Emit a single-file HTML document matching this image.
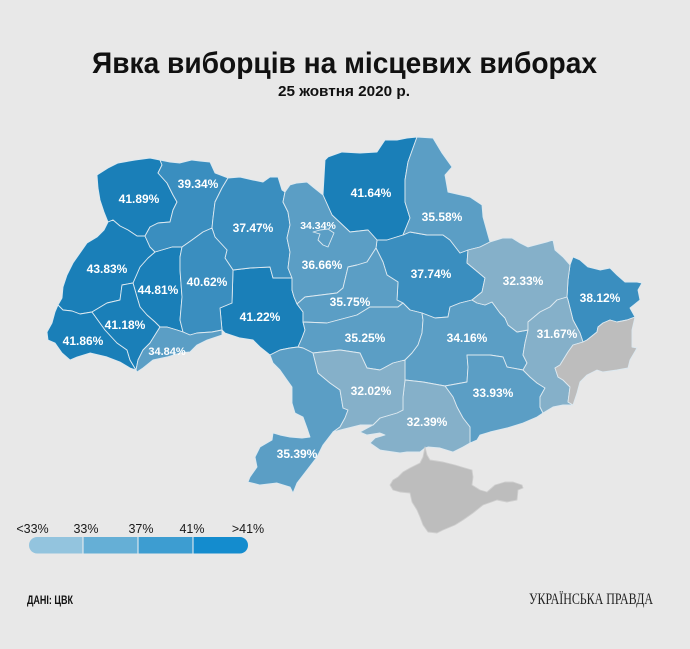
<!DOCTYPE html>
<html><head><meta charset="utf-8"><style>
html,body{margin:0;padding:0;background:#e8e8e8;}
svg{display:block;}
</style></head><body>
<svg width="690" height="649" viewBox="0 0 690 649" xmlns="http://www.w3.org/2000/svg">
<rect width="690" height="649" fill="#e8e8e8"/>
<defs>
<clipPath id="lg"><rect x="29" y="537" width="219" height="16.5" rx="8.2" ry="8.2"/></clipPath>
</defs>

<text x="344.5" y="73" text-anchor="middle" font-family="'Liberation Sans', sans-serif" font-weight="bold" font-size="30" fill="#111" textLength="505" lengthAdjust="spacingAndGlyphs">Явка виборців на місцевих виборах</text>
<text x="344" y="96" text-anchor="middle" font-family="'Liberation Sans', sans-serif" font-weight="bold" font-size="15" fill="#111" textLength="132" lengthAdjust="spacingAndGlyphs">25 жовтня 2020 р.</text>

<g stroke="#dde9f0" stroke-width="0.9" stroke-linejoin="round">
<!-- >41 -->
<g fill="#1a7fb8">
<polygon points="97,175 108,168 118,163 135,160 150,158 160,160 162,165 158,173 167,183 173,195 177,202 173,210 170,222 158,223 150,227 145,236 137,236 128,230 120,226 113,220 108,222 104,212 100,200 98,188"/>
<polygon points="155,252 172,247 182,247 180,257 180,270 182,297 180,320 183,332 177,330 167,327 160,327 155,322 147,315 140,307 137,297 133,283 140,267 148,258"/>
<polygon points="108,222 113,220 120,226 128,230 137,236 145,236 150,247 155,252 148,258 140,267 133,283 122,285 120,300 107,303 92,312 80,314 72,311 63,310 58,305 62,298 63,287 67,275 73,263 80,253 87,243 97,237 104,230"/>
<polygon points="58,305 63,310 72,311 80,314 92,312 105,330 117,343 127,350 130,360 136,370 130,368 120,362 107,357 90,353 77,357 70,360 62,353 55,343 48,340 47,332 52,323 55,312"/>
<polygon points="92,312 107,303 120,300 122,285 133,283 137,297 140,307 147,315 155,322 160,327 150,343 143,350 138,360 136,370 130,360 127,350 117,343 105,330"/>
<polygon points="233,270 250,268 270,267 273,278 287,278 292,278 292,290 294,297 297,304 303,312 303,322 305,330 302,338 298,347 290,348 280,350 270,355 260,347 253,340 240,338 225,333 222,330 220,308 232,303"/>
<polygon points="323,195 325,160 328,157 342,152 360,153 377,152 385,140 397,140 407,138 417,137 413,148 408,162 405,180 405,202 410,218 403,235 387,240 377,240 368,230 350,232 332,215"/>
</g>
<!-- 37-41 -->
<g fill="#3a8ebf">
<polygon points="160,160 170,162 180,163 192,160 200,161 210,162 215,173 228,178 222,188 215,202 213,218 212,228 203,232 192,240 182,247 172,247 155,252 150,247 145,236 150,227 158,223 170,222 173,210 177,202 173,195 167,183 158,173 162,165"/>
<polygon points="228,178 240,177 253,180 263,182 270,177 278,177 282,190 285,192 283,202 288,212 290,225 287,238 290,252 288,268 292,278 287,278 273,278 270,267 250,268 233,270 225,258 227,250 215,237 212,228 213,218 215,202 222,188"/>
<polygon points="212,228 215,237 227,250 225,258 233,270 232,303 220,308 222,330 212,332 197,333 190,335 183,332 180,320 182,297 180,270 180,257 182,247 192,240 203,232"/>
<polygon points="377,240 387,240 403,235 410,232 427,235 443,235 450,240 460,253 468,250 467,263 485,278 482,292 472,300 460,303 450,307 448,317 435,318 422,313 410,310 403,303 397,300 398,282 387,275 383,262 376,248"/>
<polygon points="570,265 573,257 580,260 588,267 600,270 610,268 617,275 625,282 637,282 642,283 638,290 640,300 630,308 635,317 627,320 617,322 610,320 603,323 598,327 597,332 587,340 583,342 580,333 573,320 568,300 567,297 568,280"/>
</g>
<!-- 33-37 -->
<g fill="#5b9ec5">
<polygon points="160,327 167,327 177,330 183,332 190,335 197,333 212,332 222,330 222,335 207,340 197,345 190,352 180,353 167,357 153,360 143,368 137,372 136,370 138,360 143,350 150,343"/>
<polygon points="285,192 290,185 297,183 307,182 313,187 323,195 332,215 350,232 368,230 377,240 376,248 367,262 357,265 348,267 343,288 337,293 305,297 297,304 294,297 292,290 292,278 288,268 290,252 287,238 290,225 288,212 283,202"/>
<polygon points="313,232 320,234 318,240 323,245 328,247 331,240 334,233 328,229 320,230"/>
<polygon points="417,137 433,138 442,153 452,167 445,175 448,192 470,197 482,205 483,217 488,235 490,242 480,247 468,250 460,253 450,240 443,235 427,235 410,232 403,235 410,218 405,202 405,180 408,162 413,148"/>
<polygon points="376,248 383,262 387,275 398,282 397,300 403,303 398,307 380,307 370,307 357,315 327,323 303,322 303,312 297,304 305,297 337,293 343,288 348,267 357,265 367,262"/>
<polygon points="303,322 327,323 357,315 370,307 380,307 398,307 403,303 410,310 422,313 423,320 422,333 418,345 412,353 405,360 393,363 380,370 367,368 360,353 340,350 313,353 303,348 298,347 302,338 305,330"/>
<polygon points="422,313 435,318 448,317 450,307 460,303 472,300 477,303 485,305 492,302 500,313 505,318 508,325 517,332 528,330 525,343 523,355 527,363 523,370 507,367 503,357 490,355 467,355 468,367 467,382 445,386 423,382 405,380 405,360 412,353 418,345 422,333 423,320"/>
<polygon points="523,370 530,377 537,383 545,388 540,397 540,407 543,413 537,417 530,420 523,423 507,428 490,432 480,435 477,440 470,443 470,427 463,418 457,407 453,397 445,386 467,382 468,367 467,355 490,355 503,357 507,367"/>
<polygon points="270,355 280,350 290,348 298,347 303,348 313,353 318,373 330,383 340,390 343,408 348,410 345,418 340,427 333,432 323,445 317,457 307,470 297,483 293,493 290,487 277,483 260,485 248,482 250,477 257,467 255,457 260,447 272,440 273,433 280,435 290,437 302,438 310,437 307,428 303,417 295,413 292,403 292,387 287,380 280,370 273,363"/>
</g>
<!-- <33 -->
<g fill="#85b0c9">
<polygon points="468,250 480,247 490,242 503,238 512,238 520,243 528,247 547,242 553,240 555,250 563,257 570,265 568,280 567,297 557,300 550,307 540,312 528,322 528,330 517,332 508,325 505,318 500,313 492,302 485,305 477,303 472,300 482,292 485,278 467,263"/>
<polygon points="528,330 528,322 540,312 550,307 557,300 567,297 568,300 573,320 580,333 583,342 573,345 568,352 560,365 555,368 558,377 563,380 570,387 568,402 573,405 563,405 553,407 543,413 540,407 540,397 545,388 537,383 530,377 523,370 527,363 523,355 525,343"/>
<polygon points="405,380 423,382 445,386 453,397 457,407 463,418 470,427 470,443 463,447 453,452 440,448 428,447 425,448 420,452 407,452 400,453 380,450 370,443 375,438 385,435 380,433 367,435 360,432 373,425 380,418 397,413 403,410 403,397"/>
<polygon points="313,353 340,350 360,353 367,368 380,370 393,363 405,360 405,380 403,397 403,410 397,413 380,418 373,425 360,425 348,428 340,430 333,432 340,427 345,418 348,410 343,408 340,390 330,383 318,373"/>
</g>
<!-- grey -->
<g fill="#bdbdbd">
<polygon points="635,317 632,330 632,347 637,348 630,360 628,368 617,370 603,372 597,370 587,375 580,382 577,393 573,405 568,402 570,387 563,380 558,377 555,368 560,365 568,352 573,345 583,342 587,340 597,332 598,327 603,323 610,320 617,322 627,320"/>
<polygon points="425,447 427,455 430,460 443,462 455,465 465,468 472,470 473,477 472,485 480,490 487,492 495,485 505,482 513,482 522,485 523,488 518,490 517,500 507,502 497,500 483,505 473,513 463,520 455,525 443,530 437,533 428,532 423,525 420,517 417,510 412,502 410,493 400,492 393,490 390,485 393,480 398,477 403,472 410,468 420,463 423,457" stroke="#cfcfcf"/>
</g>
</g>

<g font-family="'Liberation Sans', sans-serif" font-weight="bold" font-size="12" fill="#ffffff" text-anchor="middle">
<text x="139" y="203">41.89%</text>
<text x="198" y="188">39.34%</text>
<text x="253" y="232">37.47%</text>
<text x="107" y="273">43.83%</text>
<text x="158" y="294">44.81%</text>
<text x="207" y="286">40.62%</text>
<text x="260" y="321">41.22%</text>
<text x="125" y="329">41.18%</text>
<text x="83" y="345">41.86%</text>
<text x="167" y="355" font-size="11">34.84%</text>
<text x="318" y="229" font-size="10.5">34.34%</text>
<text x="371" y="197">41.64%</text>
<text x="442" y="221">35.58%</text>
<text x="322" y="269">36.66%</text>
<text x="431" y="278">37.74%</text>
<text x="350" y="306">35.75%</text>
<text x="365" y="342">35.25%</text>
<text x="467" y="342">34.16%</text>
<text x="523" y="285">32.33%</text>
<text x="600" y="302">38.12%</text>
<text x="557" y="338">31.67%</text>
<text x="493" y="397">33.93%</text>
<text x="371" y="395">32.02%</text>
<text x="427" y="426">32.39%</text>
<text x="297" y="458">35.39%</text>
</g>

<!-- legend -->
<g font-family="'Liberation Sans', sans-serif" font-size="12.5" fill="#1a1a1a" text-anchor="middle">
<text x="32.5" y="533">&lt;33%</text>
<text x="86" y="533">33%</text>
<text x="141" y="533">37%</text>
<text x="192" y="533">41%</text>
<text x="248" y="533">&gt;41%</text>
</g>
<g clip-path="url(#lg)">
<rect x="29" y="537" width="54" height="17" fill="#93c4de"/>
<rect x="83" y="537" width="55" height="17" fill="#65afd6"/>
<rect x="138" y="537" width="55" height="17" fill="#3d9dd1"/>
<rect x="193" y="537" width="55" height="17" fill="#148cce"/>
<rect x="82.5" y="537" width="1" height="17" fill="#f2f2f2"/>
<rect x="137.5" y="537" width="1" height="17" fill="#f2f2f2"/>
<rect x="192.5" y="537" width="1" height="17" fill="#f2f2f2"/>
</g>

<text x="27" y="604" font-family="'Liberation Sans', sans-serif" font-weight="bold" font-size="11.5" fill="#111" textLength="46" lengthAdjust="spacingAndGlyphs">ДАНІ: ЦВК</text>
<text x="529" y="604" font-family="'Liberation Serif', serif" font-size="16" fill="#222" textLength="124" lengthAdjust="spacingAndGlyphs">УКРАЇНСЬКА ПРАВДА</text>
</svg>
</body></html>
